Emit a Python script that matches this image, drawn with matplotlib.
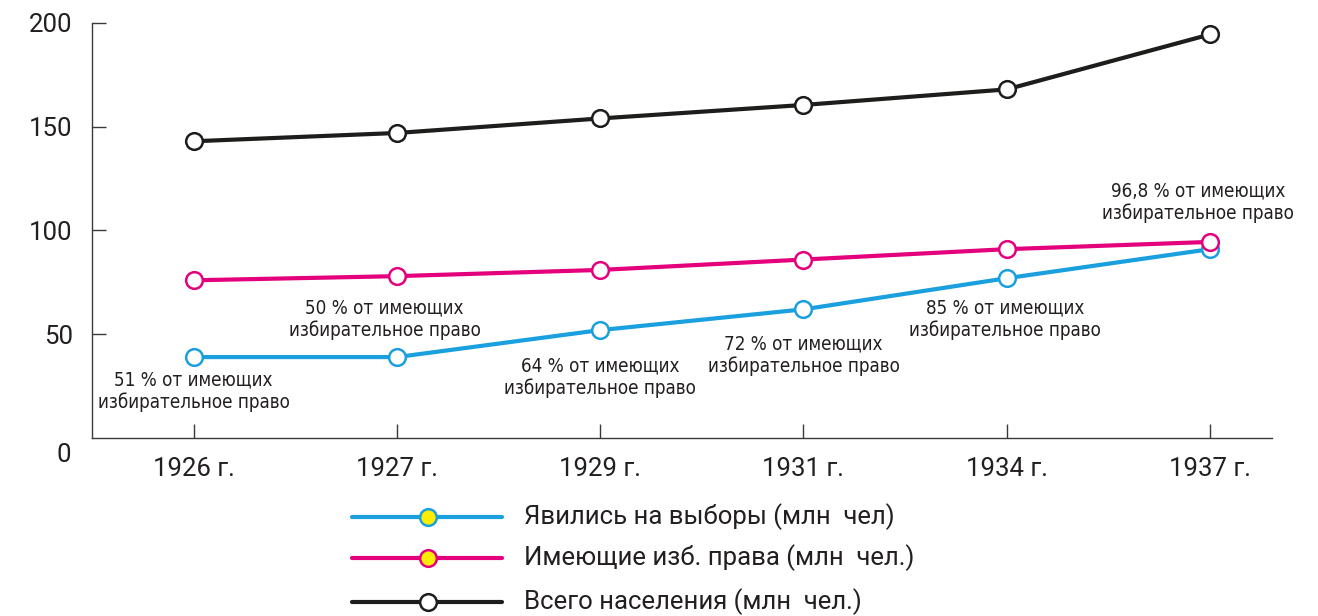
import matplotlib.pyplot as plt
from matplotlib.lines import Line2D

years = ['1926 г.', '1927 г.', '1929 г.', '1931 г.', '1934 г.', '1937 г.']
total = [143, 147, 154, 160.5, 168, 194.5]
eligible = [76, 78, 81, 86, 91, 94.5]
voted = [39, 39, 52, 62, 77, 91]

notes = ['51 % от имеющих\nизбирательное право',
         '50 % от имеющих\nизбирательное право',
         '64 % от имеющих\nизбирательное право',
         '72 % от имеющих\nизбирательное право',
         '85 % от имеющих\nизбирательное право',
         '96,8 % от имеющих\nизбирательное право']
note_x = [0, 0.94, 2.0, 3.0, 3.99, 4.94]
note_y = [22.7, 57.3, 29.4, 40, 57.3, 113.7]

legend_labels = ['Явились на выборы (млн  чел)',
                 'Имеющие изб. права (млн  чел.)',
                 'Всего населения (млн  чел.)']

BLUE = '#1a9fdf'
PINK = '#e4007d'
BLACK = '#1d1d1b'
TEXT = '#231f20'

plt.rcParams['font.family'] = ['Roboto', 'DejaVu Sans']

fig = plt.figure(figsize=(13.18, 6.16), dpi=100)
ax = fig.add_axes([92 / 1318, 178 / 616, 1180 / 1318, 415 / 616])

x = range(len(years))
line_kw = dict(lw=3, marker='o', ms=12, mew=1.8, mfc='white', solid_capstyle='round')
ax.plot(x, total, color=BLACK, **line_kw)
ax.plot(x, voted, color=BLUE, **line_kw)
ax.plot(x, eligible, color=PINK, **line_kw)

for tx, ty, t in zip(note_x, note_y, notes):
    ax.text(tx, ty, t, ha='center', va='center', fontsize=13.5, color=TEXT,
            family='DejaVu Sans', fontstretch='condensed', linespacing=1.2)

ax.set_xlim(-0.5, 5.305)
ax.set_ylim(0, 200)
ax.set_xticks(list(x))
ax.set_xticklabels(years)
ax.set_yticks([50, 100, 150, 200])
ax.tick_params(axis='both', direction='in', length=10, width=1, color='#3a3a3a',
               labelsize=18.5, labelcolor=TEXT)
ax.tick_params(axis='x', pad=14)
ax.tick_params(axis='y', pad=14)
ax.annotate('0', xy=(0, 0), xycoords='axes fraction', xytext=(-20, -12),
            textcoords='offset points', ha='center', va='center',
            fontsize=18.5, color=TEXT)
for s in ['top', 'right']:
    ax.spines[s].set_visible(False)
for s in ['left', 'bottom']:
    ax.spines[s].set_color('#3a3a3a')
    ax.spines[s].set_linewidth(1)

# legend drawn by hand below the axes
leg_colors = [BLUE, PINK, BLACK]
leg_fill = ['#ffed00', '#ffed00', 'white']
leg_y = [517, 558, 602]
for c, f, yy, lab in zip(leg_colors, leg_fill, leg_y, legend_labels):
    yf = 1 - yy / 616
    fig.add_artist(Line2D([352 / 1318, 502 / 1318], [yf, yf], transform=fig.transFigure,
                          color=c, lw=3, solid_capstyle='round'))
    fig.add_artist(Line2D([428 / 1318], [yf], transform=fig.transFigure, color=c,
                          marker='o', ms=12, mew=1.8, mfc=f, lw=0))
    fig.text(524 / 1318, yf, lab, ha='left', va='center', fontsize=18.5, color=TEXT)

fig.savefig('out.png', dpi=100)
